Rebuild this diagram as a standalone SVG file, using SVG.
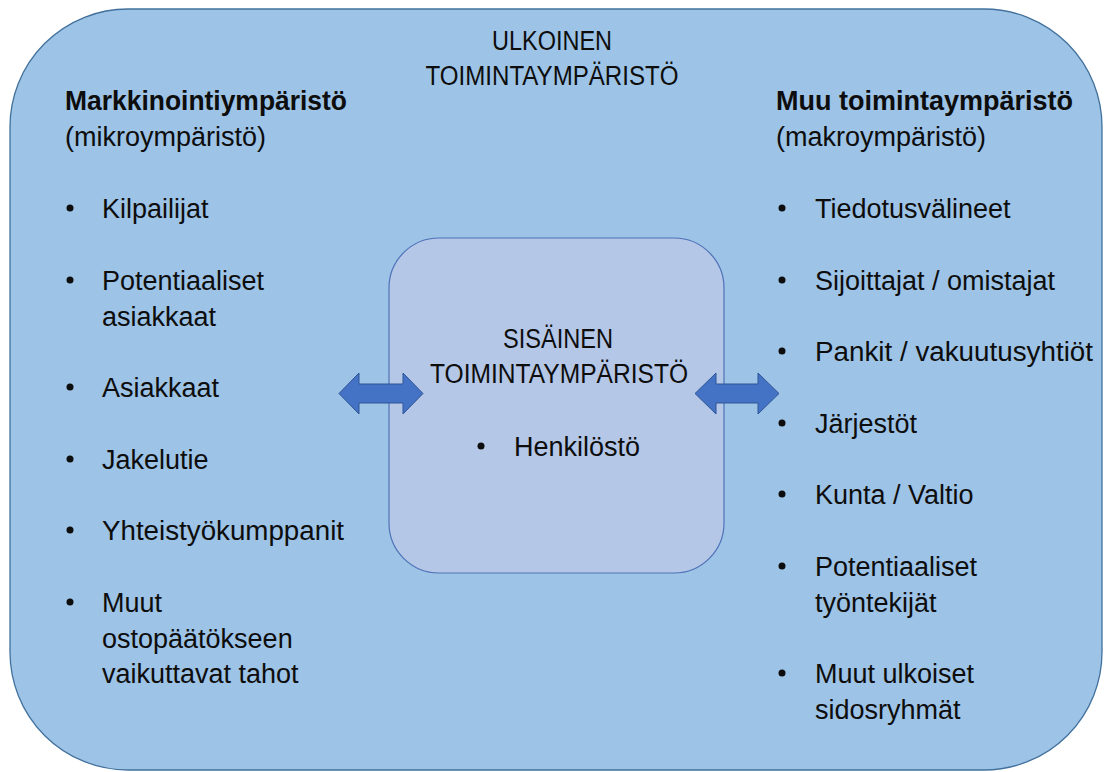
<svg xmlns="http://www.w3.org/2000/svg" width="1104" height="772" viewBox="0 0 1104 772">
<style>
.t{font-family:"Liberation Sans",Arial,sans-serif;font-size:27px;fill:#0d0d0d}
.b{font-weight:bold}
.m{text-anchor:middle}
.dot{fill:#0d0d0d}
.arr{fill:#4472C4;stroke:#2F5597;stroke-width:1}
</style>
<rect width="1104" height="772" fill="#ffffff"/>
<g id="outer">
<rect x="10" y="9" width="1092" height="761" rx="118" ry="118" fill="#9DC3E6" stroke="#41719C" stroke-width="1.3"/>
<text class="t m" x="552" y="50" textLength="120" lengthAdjust="spacingAndGlyphs">ULKOINEN</text>
<text class="t m" x="552" y="85" textLength="253" lengthAdjust="spacingAndGlyphs">TOIMINTAYMPÄRISTÖ</text>
</g>
<g id="micro">
<text class="t b" x="65" y="110" textLength="282" lengthAdjust="spacingAndGlyphs">Markkinointiympäristö</text>
<text class="t" x="65" y="146">(mikroympäristö)</text>
<circle class="dot" cx="70" cy="208" r="3.5"/>
<text class="t" x="102" y="218">Kilpailijat</text>
<circle class="dot" cx="70" cy="280" r="3.5"/>
<text class="t" x="102" y="290">Potentiaaliset</text>
<text class="t" x="102" y="326">asiakkaat</text>
<circle class="dot" cx="70" cy="387" r="3.5"/>
<text class="t" x="102" y="397">Asiakkaat</text>
<circle class="dot" cx="70" cy="459" r="3.5"/>
<text class="t" x="102" y="469">Jakelutie</text>
<circle class="dot" cx="70" cy="530" r="3.5"/>
<text class="t" x="102" y="540" textLength="242" lengthAdjust="spacingAndGlyphs">Yhteistyökumppanit</text>
<circle class="dot" cx="70" cy="602" r="3.5"/>
<text class="t" x="102" y="612">Muut</text>
<text class="t" x="102" y="648">ostopäätökseen</text>
<text class="t" x="102" y="683">vaikuttavat tahot</text>
</g>
<g id="macro">
<text class="t b" x="776" y="110">Muu toimintaympäristö</text>
<text class="t" x="776" y="146">(makroympäristö)</text>
<circle class="dot" cx="782" cy="208" r="3.5"/>
<text class="t" x="815" y="218">Tiedotusvälineet</text>
<circle class="dot" cx="782" cy="280" r="3.5"/>
<text class="t" x="815" y="290">Sijoittajat / omistajat</text>
<circle class="dot" cx="782" cy="351" r="3.5"/>
<text class="t" x="815" y="361" textLength="278" lengthAdjust="spacingAndGlyphs">Pankit / vakuutusyhtiöt</text>
<circle class="dot" cx="782" cy="423" r="3.5"/>
<text class="t" x="815" y="433">Järjestöt</text>
<circle class="dot" cx="782" cy="494" r="3.5"/>
<text class="t" x="815" y="504">Kunta / Valtio</text>
<circle class="dot" cx="782" cy="566" r="3.5"/>
<text class="t" x="815" y="576">Potentiaaliset</text>
<text class="t" x="815" y="612">työntekijät</text>
<circle class="dot" cx="782" cy="673" r="3.5"/>
<text class="t" x="815" y="683">Muut ulkoiset</text>
<text class="t" x="815" y="719">sidosryhmät</text>
</g>
<g id="inner">
<rect x="389" y="238" width="335" height="335" rx="50" ry="50" fill="#B4C7E7" stroke="#4F72B8" stroke-width="1.2"/>
<text class="t m" x="558" y="348" textLength="110" lengthAdjust="spacingAndGlyphs">SISÄINEN</text>
<text class="t m" x="559" y="383" textLength="258" lengthAdjust="spacingAndGlyphs">TOIMINTAYMPÄRISTÖ</text>
<circle class="dot" cx="481" cy="446" r="3.5"/>
<text class="t" x="514" y="456">Henkilöstö</text>
</g>
<g id="connectors">
<polygon class="arr" points="339,393.5 359,373 359,384 403,384 403,373 423,393.5 403,414 403,403 359,403 359,414"/>
<polygon class="arr" points="695,393.5 716,373 716,384 758,384 758,373 779,393.5 758,414 758,403 716,403 716,414"/>
</g>
</svg>
